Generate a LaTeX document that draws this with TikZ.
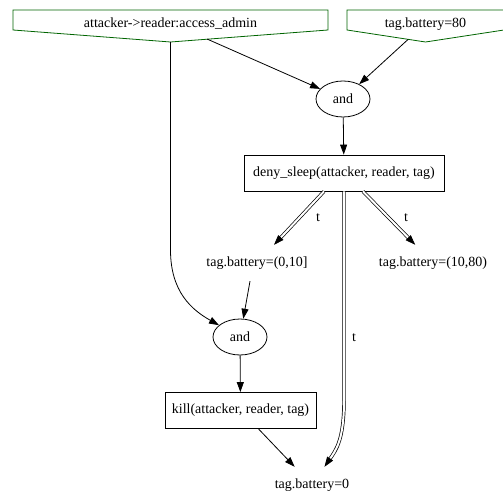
\documentclass[tikz,border=0pt]{standalone}
\usepackage{fontspec}
\setmainfont{Liberation Serif}
\usetikzlibrary{arrows.meta, shapes.geometric}
\definecolor{housegreen}{RGB}{0,100,0}

\begin{document}
\begin{tikzpicture}[x=1pt, y=-1pt, >={Triangle[length=10pt,width=7pt]},
  every node/.style={font=\fontsize{14}{16}\selectfont},
  edge/.style={->, line width=0.8pt},
  dbl/.style={->, double, double distance=2pt, line width=0.7pt},
  house/.style={housegreen, line width=0.8pt},
  act/.style={draw, line width=0.8pt, minimum height=36pt},
  gate/.style={draw, ellipse, line width=0.8pt, minimum width=54pt, minimum height=36pt, inner sep=0pt},
  fact/.style={minimum height=36pt, inner sep=0pt}]
  \useasboundingbox (0,0) rectangle (503,494);
  % preconditions (inverted houses)
  \node[anchor=base] (acc) at (170.5,28) {attacker->reader:access\_admin};
  \draw[house] (13,10) -- (328,10) -- (328,30) -- (170.5,42) -- (13,30) -- cycle;
  \coordinate (acc tip) at (170.5,42);
  \coordinate (acc r) at (207,39);
  \node[anchor=base] (bat) at (425.5,28) {tag.battery=80};
  \draw[house] (347,10) -- (504,10) -- (504,30) -- (425.5,42) -- (347,30) -- cycle;
  \coordinate (bat tip) at (408,39.5);
  % gates and actions
  \node[gate] (and1) at (343,99) {and};
  \node[act, minimum width=200pt] (deny) at (344,173) {deny\_sleep(attacker, reader, tag)};
  \node[gate] (and2) at (240,337) {and};
  \node[act, minimum width=151pt] (kill) at (240.5,410.5) {kill(attacker, reader, tag)};
  % outcomes
  \node[fact] (tb010) at (257,263) {tag.battery=(0,10]};
  \node[fact] (tb1080) at (433,263) {tag.battery=(10,80)};
  \node[fact] (tb0) at (312,485) {tag.battery=0};
  % edges
  \draw[edge] (acc r) -- (and1);
  \draw[edge] (bat tip) -- (and1);
  \draw[edge] (and1) -- (deny);
  \draw[edge] (acc tip) -- (170.5,250) .. controls (170.5,292) and (192,310) .. (and2);
  \draw[edge] ([xshift=-7pt]tb010.south) -- (and2);
  \draw[edge] (and2) -- (kill);
  \draw[edge] ([xshift=18pt]kill.south) -- (tb0);
  % transitions
  \draw[dbl] ([xshift=-20pt]deny.south) -- (tb010);
  \draw[dbl] ([xshift=19pt]deny.south) -- (tb1080);
  \draw[dbl] (deny.south) -- (344,400) .. controls (344,440) and (336,450) .. (tb0);
  \node (t1) at (318,218) {t};
  \node (t2) at (406,218) {t};
  \node (t3) at (354,338) {t};
\end{tikzpicture}
\end{document}
